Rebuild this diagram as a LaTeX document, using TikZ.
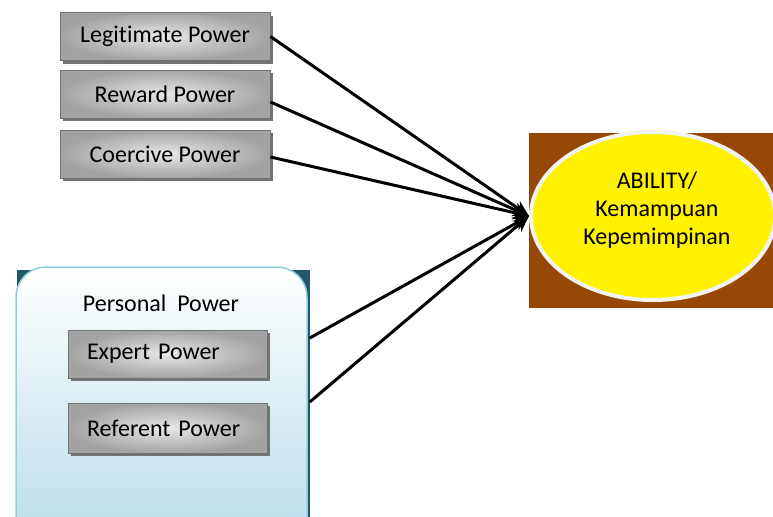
\documentclass[tikz,border=0pt]{standalone}
\usepackage{fontspec}
\setmainfont{Carlito}[Ligatures=NoCommon]
\usetikzlibrary{arrows.meta,shadows,shapes.geometric,backgrounds}
\definecolor{coklat}{HTML}{974806}
\definecolor{tosca}{HTML}{215968}
\definecolor{birumuda}{HTML}{B7DDE8}
\definecolor{garisbiru}{HTML}{93CDDD}

\begin{document}
\begin{tikzpicture}[x=0.5pt, y=-0.5pt, font=\fontsize{12}{14}\selectfont,
		>={Stealth[length=8pt,width=7pt]},
		kotak/.style={draw=black!55, line width=0.5pt, inner color=gray!18, outer color=gray!72,
			minimum width=105pt, minimum height=24pt,
			drop shadow={shadow xshift=1.5pt, shadow yshift=-1.5pt, fill=black!55, opacity=1}},
		kiri/.style={text width=80.5pt, inner xsep=9.5pt, align=left, minimum width=99.5pt},
		kelompok/.style={draw=garisbiru, line width=0.75pt, rounded corners=15pt,
			top color=white, bottom color=birumuda!90!garisbiru, minimum width=145.5pt, minimum height=146.5pt},
		panah/.style={->, line width=1.5pt}]
	\useasboundingbox (0,0) rectangle (773,516);

	% kekuasaan posisi
	\node[kotak] (legit) at (165,36.5) {Legitimate Power};
	\node[kotak] (reward) at (165,94) {Reward Power};
	\node[kotak] (coercive) at (165,154) {Coercive Power};

	% kekuasaan pribadi
	\node[kelompok] (personal) at (161.5,413.5) {};
	\begin{scope}[on background layer]
		\fill[tosca] ([xshift=1pt,yshift=-2pt]personal.north west) rectangle ([xshift=1pt,yshift=-2pt]personal.south east);
	\end{scope}
	\node (judul) at (161,303) {Personal\ \ Power};
	\node[kotak, kiri] (expert) at (167.5,354) {Expert Power};
	\node[kotak, kiri, minimum height=25pt] (referent) at (167.5,428) {Referent Power};

	% kemampuan
	\node[fill=coklat, inner sep=0pt, minimum width=126pt, minimum height=87.5pt] (latar) at (655,220.5) {};
	\node[ellipse, fill=yellow, draw=gray!10, line width=2pt, minimum width=122pt, minimum height=84pt,
		label={[align=center, xshift=2pt, yshift=3pt]center:ABILITY/\\Kemampuan\\Kepemimpinan}] (ability) at (653,216) {};

	\draw[panah] (legit.east) -- (ability.west);
	\draw[panah] ([yshift=-4pt]reward.east) -- (ability.west);
	\draw[panah] ([yshift=-1.5pt]coercive.east) -- (ability.west);
	\draw[panah] ([xshift=1pt,yshift=37.75pt]personal.east) -- (ability.west);
	\draw[panah] ([xshift=1pt,yshift=5.75pt]personal.east) -- (ability.west);
\end{tikzpicture}
\end{document}
